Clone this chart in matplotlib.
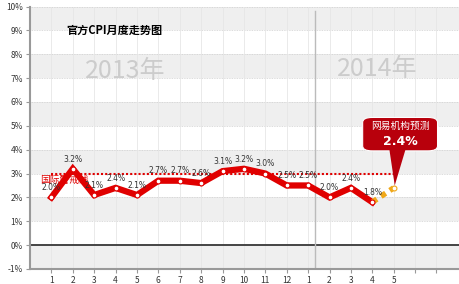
import matplotlib
matplotlib.use("Agg")
import matplotlib.pyplot as plt
import matplotlib.patches as patches
import numpy as np

plt.rcParams['font.family'] = ['Noto Sans CJK SC', 'DejaVu Sans']

# data
months = ["1", "2", "3", "4", "5", "6", "7", "8", "9", "10", "11", "12",
          "1", "2", "3", "4", "5"]
cpi = [2.0, 3.2, 2.1, 2.4, 2.1, 2.7, 2.7, 2.6, 3.1, 3.2, 3.0, 2.5,
       2.5, 2.0, 2.4, 1.8]
forecast = 2.4
warning_level = 3.0
y_ticks = list(range(-1, 11))

RED = "#e00000"
ORANGE = "#f0a818"

fig = plt.figure(figsize=(4.6, 2.84), dpi=100)
ax = fig.add_axes([30 / 460, 15 / 284, 430 / 460, 262.5 / 284])

x_min, x_max = -1, 19.1
ax.set_xlim(x_min, x_max)
ax.set_ylim(-1, 10)

# alternating bands
for lo in range(-1, 10, 2):
    ax.axhspan(lo, lo + 1, color="#efefef", zorder=0, lw=0)
for y in y_ticks:
    ax.axhline(y, color="#cfcfcf", lw=0.6, ls=(0, (1, 1)), zorder=1)
for i in range(0, 19):
    ax.axvline(i, color="#e6e6e6", lw=0.6, zorder=1)

ax.axhline(0, color="#444444", lw=1.4, zorder=2)
ax.axvline(12.33, ymax=(9.8 + 1) / 11, color="#bbbbbb", lw=1.0, zorder=2)

# year labels
ax.text(3.45, 7.3, "2013年", fontsize=18, color="#cccccc", ha="center", va="center", zorder=2)
ax.text(15.25, 7.4, "2014年", fontsize=18, color="#cccccc", ha="center", va="center", zorder=2)
ax.text(0.7, 9.0, "官方CPI月度走势图", fontsize=8, fontweight="bold", color="black",
        ha="left", va="center", zorder=5)

# warning line
xs = np.arange(len(cpi))
ax.plot([0, 16], [warning_level, warning_level], color=RED, lw=1.5,
        ls=(0, (1, 1)), zorder=3)
ax.text(-0.55, 2.72, "国际警戒线", fontsize=7, color=RED, ha="left", va="center", zorder=3)

# CPI line
ax.plot(xs, cpi, color=RED, lw=4.5, solid_joinstyle="miter", zorder=4)
ax.plot([xs[-1], len(cpi)], [cpi[-1], forecast], color=ORANGE, lw=4,
        ls=(0, (1.0, 0.9)), zorder=4)
ax.plot(xs, cpi, ls="none", marker="o", ms=3.5, mfc="white", mec=RED, mew=0.8, zorder=5)
ax.plot([len(cpi)], [forecast], ls="none", marker="o", ms=3.5, mfc="white",
        mec=ORANGE, mew=0.8, zorder=5)

for x, v in zip(xs, cpi):
    ax.text(x, v + 0.22, f"{v:.1f}%", fontsize=5.5, color="#333333",
            ha="center", va="bottom", zorder=6, family="DejaVu Sans")

# forecast callout
bx0, bx1, by0, by1 = 14.55, 18.05, 3.95, 5.35
box = patches.FancyBboxPatch((bx0, by0), bx1 - bx0, by1 - by0,
                             boxstyle="round,pad=0,rounding_size=0.45",
                             mutation_aspect=0.45,
                             fc="#b8000c", ec="white", lw=0.8, zorder=7)
ax.add_patch(box)
tri = patches.Polygon([[15.8, by0 + 0.05], [16.55, by0 + 0.05], [16.05, forecast + 0.1]],
                      closed=True, fc="#b8000c", ec="none", zorder=7)
ax.add_patch(tri)
ax.text((bx0 + bx1) / 2, 5.0, "网易机构预测", fontsize=7, color="white",
        ha="center", va="center", zorder=8)
ax.text((bx0 + bx1) / 2, 4.35, f"{forecast:.1f}%", fontsize=9, fontweight="bold",
        color="white", ha="center", va="center", zorder=8, family="DejaVu Sans")

# axes styling
ax.set_yticks(y_ticks)
ax.set_yticklabels([f"{y}%" for y in y_ticks], fontsize=6, color="#333333")
ax.set_xticks(range(0, 19))
ax.set_xticklabels(months + ["", ""], fontsize=6, color="#333333")
ax.tick_params(axis="both", length=3, width=0.8, color="#999999", pad=2)
for side in ["top", "right"]:
    ax.spines[side].set_visible(False)
for side in ["left", "bottom"]:
    ax.spines[side].set_color("#999999")
    ax.spines[side].set_linewidth(1.5)

fig.savefig("out.png", dpi=100, facecolor="white")
